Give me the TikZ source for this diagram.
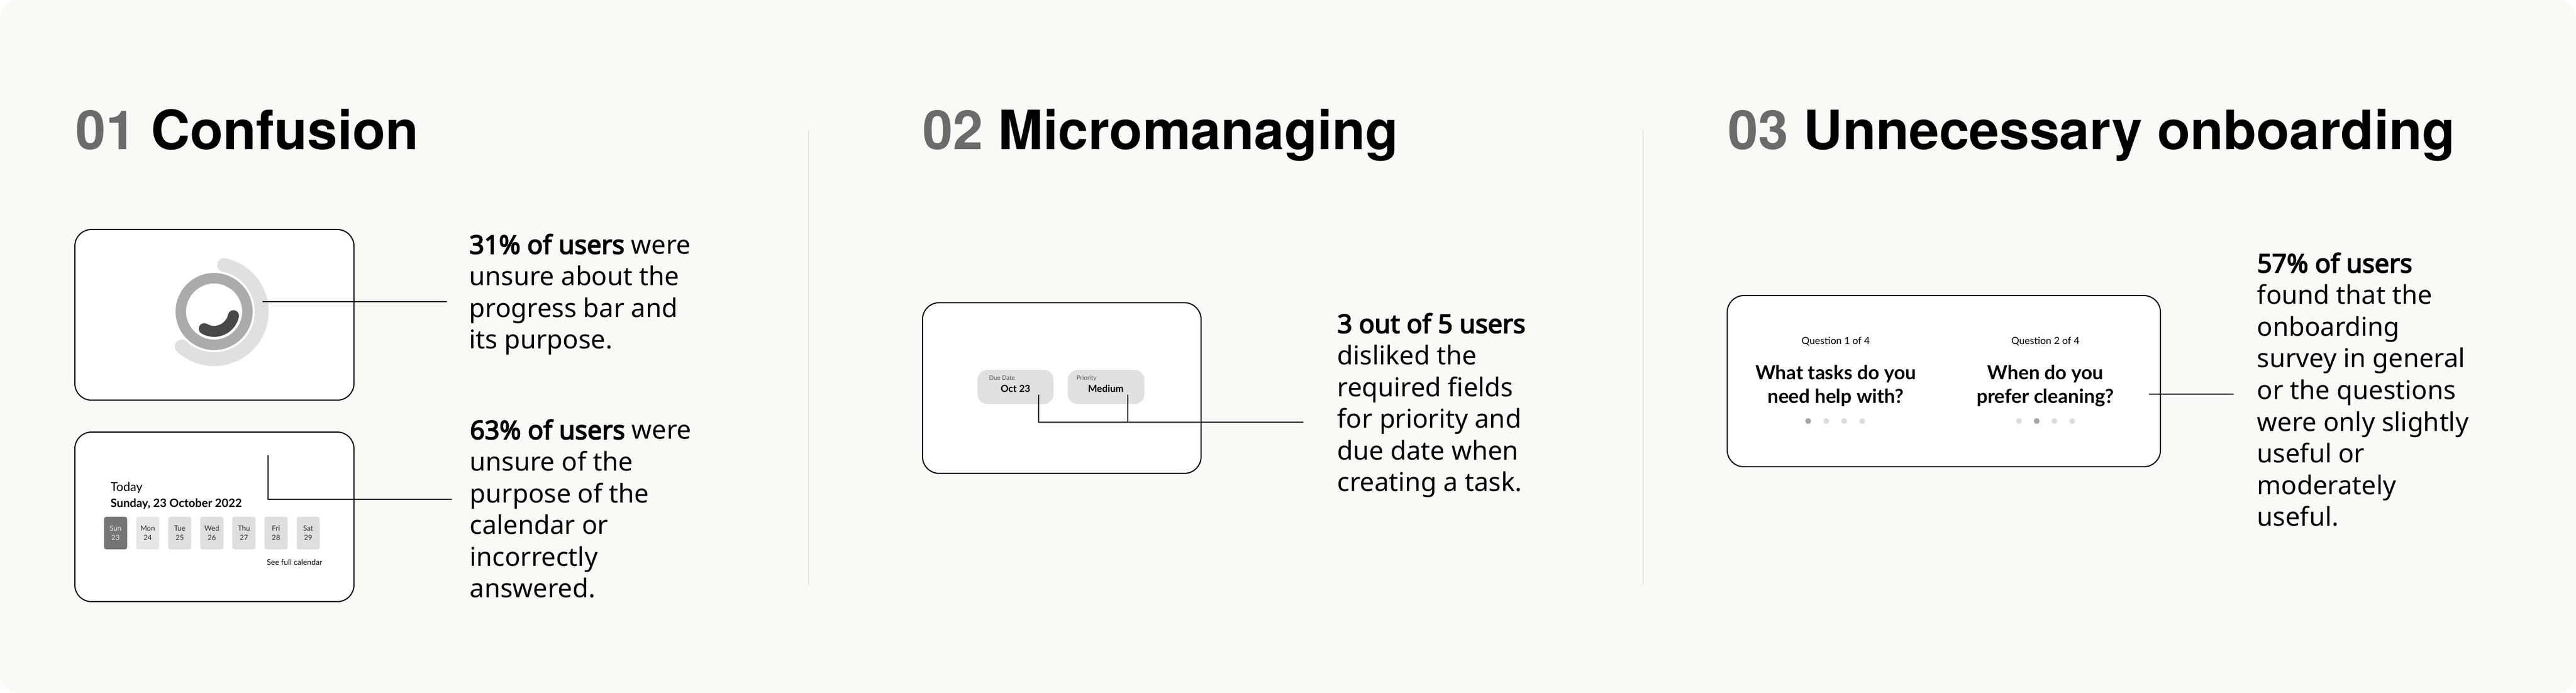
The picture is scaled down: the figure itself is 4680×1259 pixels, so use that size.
\documentclass[tikz,border=0pt]{standalone}
\usepackage{fontspec}
\usepackage{xcolor}
\usepackage{tikz}
\usetikzlibrary{fit,positioning,calc}
\newfontfamily\headfont{TeX Gyre Heros}
\IfFontExistsTF{NotoSans-Bold.ttf}
  {\newfontfamily\bodyfont{Noto Sans}[BoldFont=NotoSans-Bold.ttf]}
  {\IfFontExistsTF{NotoSans-Bold.otf}
    {\newfontfamily\bodyfont{Noto Sans}[BoldFont=NotoSans-Bold.otf]}
    {\newfontfamily\bodyfont{Noto Sans}[AutoFakeBold=3.6]}}
\newfontfamily\uifont{Lato}
\definecolor{bgbeige}{HTML}{FAF9F5}
\definecolor{numgrey}{HTML}{6B6B6B}
\definecolor{divgrey}{HTML}{E2E2E2}
\definecolor{ringmid}{HTML}{ABABAB}
\definecolor{ringlight}{HTML}{E0E0E0}
\definecolor{ringdark}{HTML}{484848}
\definecolor{pillgrey}{HTML}{E0E0E0}
\definecolor{daygrey}{HTML}{DEDEDE}
\definecolor{daylight}{HTML}{E6E6E6}
\definecolor{daydark}{HTML}{757575}
\definecolor{daytext}{HTML}{EDEDED}
\definecolor{ink}{HTML}{2A2A2A}
\definecolor{lblgrey}{HTML}{5A5A5A}
\definecolor{dotdark}{HTML}{A4A4A4}
\definecolor{dotlight}{HTML}{DCDCDC}

\begin{document}
\begin{tikzpicture}[x=0.25pt,y=-0.25pt]
\tikzstyle{card}=[rectangle, draw=black, line width=0.5pt, fill=white, rounded corners=7.5pt, inner sep=0pt]
\tikzstyle{pill}=[rectangle, fill=pillgrey, rounded corners=4.5pt, inner sep=0pt]
\tikzstyle{daybox}=[rectangle, rounded corners=1pt, inner sep=0pt, minimum width=10.5pt, minimum height=14.75pt, align=center, font=\uifont\fontsize{3.25}{4.25}\selectfont]
\tikzstyle{title}=[anchor=base west, inner sep=0pt, font=\headfont\bfseries\fontsize{24.6}{29}\selectfont]
\tikzstyle{finding}=[anchor=base west, inner sep=0pt, align=left, font=\bodyfont\fontsize{11.75}{14.4}\selectfont]
\tikzstyle{ui}=[inner sep=0pt, text=black]
\tikzstyle{leader}=[line width=0.33pt, black]
\tikzstyle{divider}=[line width=0.4pt, divgrey]
  \fill[white] (0,0) rectangle (4680,1259);
  \fill[bgbeige, rounded corners=8.75pt] (0,0) rectangle (4680,1259);
  \useasboundingbox (0,0) rectangle (4680,1259);
  \draw[divider] (1469,236) -- (1469,1062);
  \draw[divider] (2985,236) -- (2985,1062);
  \node[title] (titleconf) at (137,272) {\textcolor{numgrey}{01} Confusion};
  \node[title] (titlemicro) at (1676,272) {\textcolor{numgrey}{02} Micromanaging};
  \node[title] (titleonb) at (3139,272) {\textcolor{numgrey}{03} Unnecessary onboarding};
  \node[card, fit={(136,417) (643,727)}] (cardprog) {};
  \coordinate (ringc) at (389,566);
  \draw[ringmid, line width=4.75pt] (ringc) circle[radius=15.125pt];
  \draw[ringlight, line width=6.25pt, line cap=round] ($(ringc)+(78:21.625pt)$) arc[start angle=78, end angle=-133, radius=21.625pt];
  \draw[ringdark, line width=5pt, line cap=round] ($(ringc)+(-120:9pt)$) arc[start angle=-120, end angle=-12, radius=9pt];
  \coordinate (progpt) at (477,548);
  \coordinate (progend) at (812,548);
  \node[finding] (txtprog) at (852,634) {\textbf{31\% of users} were\\unsure about the\\progress bar and\\its purpose.};
  \node[card, fit={(136,785) (643,1093)}] (cardcal) {};
  \node[ui, anchor=base west, font=\uifont\fontsize{5.6}{6.7}\selectfont] (today) at (200,893) {Today};
  \node[ui, anchor=base west, font=\uifont\bfseries\fontsize{5.25}{6.3}\selectfont] (todaydate) at (200,922) {Sunday, 23 October 2022};
  \foreach \d/\n/\bg/\fg [count=\i from 0] in {Sun/23/daydark/daytext, Mon/24/daylight/ink, Tue/25/daygrey/ink, Wed/26/daygrey/ink, Thu/27/daygrey/ink, Fri/28/daygrey/ink, Sat/29/daygrey/ink}
    \node[daybox, fill=\bg, text=\fg] (day\d) at ({210+58.3*\i},968.5) {\d\\\n};
  \node[ui, anchor=base west, font=\uifont\fontsize{3.5}{4.2}\selectfont] (fullcal) at (484,1027) {See full calendar};
  \coordinate (calpt) at (487,827);
  \coordinate (calend) at (821,907);
  \node[finding] (txtcal) at (853,1086) {\textbf{63\% of users} were\\unsure of the\\purpose of the\\calendar or\\incorrectly\\answered.};
  \node[card, fit={(1676,550) (2182,860)}] (cardfields) {};
  \node[pill, fit={(1776,672) (1914,734)}] (duepill) {};
  \node[pill, fit={(1940,672) (2079,734)}] (pripill) {};
  \node[ui, anchor=base west, text=lblgrey, font=\uifont\fontsize{2.8}{3.4}\selectfont] (duelbl) at (1796,691) {Due Date};
  \node[ui, anchor=base west, text=lblgrey, font=\uifont\fontsize{2.8}{3.4}\selectfont] (prilbl) at (1955,691) {Priority};
  \node[ui, anchor=base, font=\uifont\bfseries\fontsize{4.4}{5.3}\selectfont] (dueval) at (1845,713) {Oct 23};
  \node[ui, anchor=base, font=\uifont\bfseries\fontsize{4.4}{5.3}\selectfont] (prival) at (2009,713) {Medium};
  \coordinate (duept) at (1887,717);
  \coordinate (pript) at (2049,717);
  \coordinate (fieldsend) at (2368,767);
  \node[finding] (txtfields) at (2429,893) {\textbf{3 out of 5 users}\\disliked the\\required fields\\for priority and\\due date when\\creating a task.};
  \node[card, fit={(3138,537) (3925,848)}] (cardsurvey) {};
  \node[ui, anchor=base, font=\uifont\fontsize{4.5}{5.4}\selectfont] (qonelbl) at (3335,626) {Question 1 of 4};
  \node[ui, anchor=base, font=\uifont\fontsize{4.5}{5.4}\selectfont] (qtwolbl) at (3716,626) {Question 2 of 4};
  \node[ui, anchor=base, align=center, font=\uifont\bfseries\fontsize{8.8}{10.75}\selectfont] (qone) at (3335,733) {What tasks do you\\need help with?};
  \node[ui, anchor=base, align=center, font=\uifont\bfseries\fontsize{8.8}{10.75}\selectfont] (qtwo) at (3716,733) {When do you\\prefer cleaning?};
  \foreach \i in {0,...,3} {
    \fill[dotlight] ({3285+32.7*\i},765) circle[radius=1.3pt];
    \fill[dotlight] ({3668+32.2*\i},765) circle[radius=1.3pt];
  }
  \fill[dotdark] (3285,765) circle[radius=1.3pt];
  \fill[dotdark] (3700.2,765) circle[radius=1.3pt];
  \coordinate (surveypt) at (3904,716);
  \coordinate (surveyend) at (4058,716);
  \node[finding] (txtsurvey) at (4100,956) {\textbf{57\% of users}\\found that the\\onboarding\\survey in general\\or the questions\\were only slightly\\useful or\\moderately\\useful.};
  \draw[leader] (progpt) -- (progend);
  \draw[leader] (calpt) |- (calend);
  \draw[leader] (duept) |- (fieldsend);
  \draw[leader] (pript) -- (pript |- fieldsend);
  \draw[leader] (surveypt) -- (surveyend);
\end{tikzpicture}
\end{document}
